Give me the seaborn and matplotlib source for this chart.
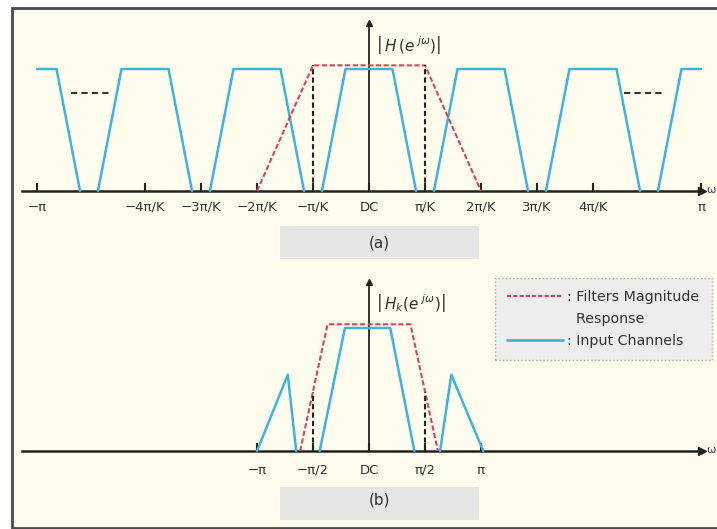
import numpy as np
import matplotlib
matplotlib.use("Agg")
import matplotlib.pyplot as plt
from matplotlib.patches import Rectangle
from matplotlib.lines import Line2D
import seaborn as sns

# ---- panel (a): x in units of pi/K, y relative to channel top ----
PI_A = 5.93
chan_centers_a = [-6, -4, -2, 0, 2, 4, 6]
trap_offsets = [-0.84, -0.42, 0.42, 0.84]
trap_levels = [0, 1, 1, 0]
filter_a_x = [-2, -1, 1, 2]
filter_a_y = [0, 1.03, 1.03, 0]
ticks_a = [-PI_A, -4, -3, -2, -1, 0, 1, 2, 3, 4, PI_A]
ticklabels_a = ['−π', '−4π/K', '−3π/K', '−2π/K', '−π/K', 'DC',
                'π/K', '2π/K', '3π/K', '4π/K', 'π']
dots_a = [(-5.32, -4.59), (4.55, 5.27)]
dots_a_level = 0.80

# ---- panel (b): x in units of pi/2 ----
left_tri_x = [-2.0, -1.45, -1.30]
left_tri_y = [0, 0.62, 0]
mid_trap_x = [-0.88, -0.43, 0.38, 0.81]
mid_trap_y = [0, 1, 1, 0]
right_tri_x = [1.27, 1.47, 2.04]
right_tri_y = [0, 0.62, 0]
filter_b_x = [-1.23, -0.74, 0.74, 1.23]
filter_b_y = [0, 1.03, 1.03, 0]
ticks_b = [-2, -1, 0, 1, 2]
ticklabels_b = ['−π', '−π/2', 'DC', 'π/2', 'π']

CYAN = '#3DB5DA'
RED = '#D2465E'
INK = '#222222'
CREAM = '#FEFCEC'

sns.set_theme(style="white")
plt.rcParams['font.family'] = ['DejaVu Sans']
plt.rcParams['mathtext.fontset'] = 'dejavusans'

W, H = 717, 529
fig = plt.figure(figsize=(W / 100, H / 100), dpi=100, facecolor='white')
fig.patches.append(Rectangle((12 / W, 1 - 528 / H), 1.2, (528 - 8) / H,
                             transform=fig.transFigure, facecolor=CREAM,
                             edgecolor='#4A4A4A', lw=2, zorder=-5))

SX, CX = 56.0, 369.0
xlim = (-CX / SX, (W - CX) / SX)

ax_a = fig.add_axes([0, (H - 264) / H, 1, 264 / H])
ax_b = fig.add_axes([0, 0, 1, 265 / H])
ax_a.set_ylim(-(264 - 191) / 122, 191 / 122)
ax_b.set_ylim(-(529 - 451) / 123, (451 - 264) / 123)


def clip_poly(xs, ys, lo, hi):
    xs = np.asarray(xs, float)
    ys = np.asarray(ys, float)
    keep = (xs >= lo) & (xs <= hi)
    nx = np.concatenate([[lo] if xs[0] < lo else [], xs[keep],
                         [hi] if xs[-1] > hi else []])
    return nx, np.interp(nx, xs, ys)


def style_axes(ax, ticks, labels, top, pad):
    ax.set_xlim(*xlim)
    ax.patch.set_visible(False)
    for s in ['top', 'right']:
        ax.spines[s].set_visible(False)
    ax.spines['bottom'].set_position(('data', 0))
    ax.spines['bottom'].set_bounds(-6.2, 5.9)
    ax.spines['left'].set_position(('data', 0))
    ax.spines['left'].set_bounds(0, top - 0.04)
    for s in ['bottom', 'left']:
        ax.spines[s].set_color(INK)
    ax.spines['bottom'].set_linewidth(1.8)
    ax.spines['left'].set_linewidth(1.3)
    ax.set_xticks(ticks, labels)
    ax.set_yticks([])
    ax.tick_params(axis='x', direction='in', length=6, width=1.5,
                   color=INK, labelsize=9.5, labelcolor='#333333', pad=pad,
                   bottom=True)
    ax.plot(5.95, 0, marker='>', ms=6, color=INK, clip_on=False)
    ax.plot(0, top, marker='^', ms=5, color=INK, clip_on=False)
    ax.text(6.19, 0.01, 'ω', ha='right', va='center', fontsize=8,
            color='#333366')
    ax.add_patch(Rectangle((-1.59, -0.56), 3.55, 0.27, facecolor='#E6E6E6',
                           edgecolor='none', zorder=0))


# ---- panel (a) ----
style_axes(ax_a, ticks_a, ticklabels_a, 1.38, 7)
for c in chan_centers_a:
    px, py = clip_poly(np.add(c, trap_offsets), trap_levels, -PI_A, PI_A)
    sns.lineplot(x=px, y=py, ax=ax_a, sort=False, estimator=None,
                 color=CYAN, lw=1.8, zorder=3)
sns.lineplot(x=filter_a_x, y=filter_a_y, ax=ax_a, sort=False, estimator=None,
             color=RED, lw=1.5, zorder=4).lines[-1].set_dashes([2.5, 1.2])
for xv in [-1, 1]:
    ax_a.plot([xv, xv], [0, np.interp(xv, filter_a_x, filter_a_y)],
              color=INK, lw=1.5, dashes=[2.5, 1.5], zorder=4)
for x0, x1 in dots_a:
    ax_a.plot([x0, x1], [dots_a_level, dots_a_level], color='#333333',
              lw=1.5, dashes=[3, 2], zorder=3)
ax_a.text(0.12, 1.2, r'$\left|\,H\,(e^{\ j\omega})\right|$', fontsize=11,
          ha='left', va='center', color='#333333')
ax_a.text(0.18, -0.425, '(a)', fontsize=11, ha='center', va='center',
          color='#333333')

# ---- panel (b) ----
style_axes(ax_b, ticks_b, ticklabels_b, 1.37, 9)
for xs, ys in [(left_tri_x, left_tri_y), (mid_trap_x, mid_trap_y),
               (right_tri_x, right_tri_y)]:
    sns.lineplot(x=xs, y=ys, ax=ax_b, sort=False, estimator=None,
                 color=CYAN, lw=1.8, zorder=3)
sns.lineplot(x=filter_b_x, y=filter_b_y, ax=ax_b, sort=False, estimator=None,
             color=RED, lw=1.5, zorder=4).lines[-1].set_dashes([2.5, 1.2])
for xv in [-1, 1]:
    ax_b.plot([xv, xv], [0, np.interp(xv, filter_b_x, filter_b_y)],
              color=INK, lw=1.5, dashes=[2.5, 1.5], zorder=4)
ax_b.text(0.12, 1.2, r'$\left|\,H_k(e^{\ j\omega})\right|$', fontsize=11,
          ha='left', va='center', color='#333333')
ax_b.text(0.18, -0.4, '(b)', fontsize=11, ha='center', va='center',
          color='#333333')

handles = [Line2D([], [], color=RED, lw=1.5, dashes=[2, 1]),
           Line2D([], [], color='none'),
           Line2D([], [], color=CYAN, lw=2)]
labels = [': Filters Magnitude', '  Response', ': Input Channels']
leg = ax_b.legend(handles, labels, loc='upper left',
                  bbox_to_anchor=(495 / W, 1 - 278 / H),
                  bbox_transform=fig.transFigure, fontsize=10.3,
                  frameon=True, fancybox=False, framealpha=1,
                  facecolor='#EDEDED', edgecolor='#AAAAAA',
                  handlelength=3.9, handletextpad=0.3, borderpad=0.85,
                  labelspacing=0.55, borderaxespad=0)
leg.get_frame().set_linestyle(':')
for t in leg.get_texts():
    t.set_color('#333333')

fig.savefig('out.png', dpi=100, facecolor='white')
